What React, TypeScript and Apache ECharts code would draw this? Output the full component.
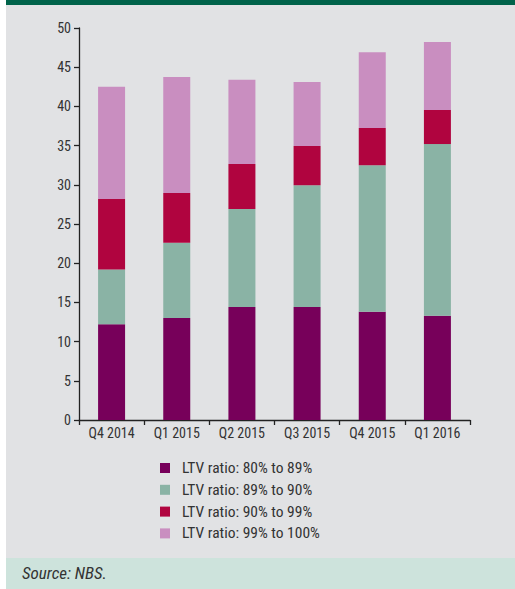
import React, { useEffect, useRef } from "react";
import * as echarts from "echarts";

const categories = ["Q4 2014", "Q1 2015", "Q2 2015", "Q3 2015", "Q4 2015", "Q1 2016"];
const ltv80to89 = [12.2, 13.0, 14.4, 14.4, 13.8, 13.3];
const ltv89to90 = [7.0, 9.6, 12.5, 15.55, 18.7, 21.9];
const ltv90to99 = [9.0, 6.35, 5.75, 5.0, 4.75, 4.35];
const ltv99to100 = [14.3, 14.8, 10.75, 8.15, 9.65, 8.65];
const seriesNames = [
  "LTV ratio: 80% to 89%",
  "LTV ratio: 89% to 90%",
  "LTV ratio: 90% to 99%",
  "LTV ratio: 99% to 100%",
];
const colors = ["#77005a", "#8ab3a5", "#b0043f", "#c98ec0"];
const FONT = "'Liberation Sans Narrow', 'Roboto Condensed', 'DejaVu Sans Condensed', Roboto, sans-serif";

export default function App() {
  const ref = useRef<HTMLDivElement>(null);
  useEffect(() => {
    document.body.style.margin = "0";
    const chart = echarts.init(ref.current!, undefined, { renderer: "svg" });
    const data = [ltv80to89, ltv89to90, ltv90to99, ltv99to100];
    chart.setOption({
      animation: false,
      backgroundColor: "#ffffff",
      textStyle: { fontFamily: FONT },
      graphic: [
        { type: "rect", z: -10, shape: { x: 6, y: 0, width: 509, height: 5 }, style: { fill: "#00634a" } },
        { type: "rect", z: -10, shape: { x: 6, y: 5, width: 509, height: 553 }, style: { fill: "#e1e2e4" } },
        { type: "rect", z: -10, shape: { x: 6, y: 558, width: 509, height: 31 }, style: { fill: "#cde3dc" } },
        {
          type: "text",
          left: 22,
          top: 564,
          style: { text: "Source: NBS.", fill: "#333333", font: `italic 17px ${FONT}` },
        },
      ],
      grid: { left: 79, right: 45, top: 28, bottom: 169 },
      legend: {
        orient: "vertical",
        left: 155,
        top: 455,
        itemWidth: 10,
        itemHeight: 10,
        itemGap: 5.8,
        icon: "rect",
        textStyle: { fontSize: 15.5, color: "#333333", fontFamily: FONT, lineHeight: 15.5, padding: [0, 0, 0, 7] },
        data: seriesNames,
      },
      xAxis: {
        type: "category",
        data: categories,
        axisLine: { lineStyle: { color: "#222222", width: 1.3 } },
        axisTick: { show: true, length: 5, alignWithLabel: false, lineStyle: { color: "#222222", width: 1.3 } },
        axisLabel: { fontSize: 14, color: "#333333", margin: 6, fontFamily: FONT },
      },
      yAxis: {
        type: "value",
        min: 0,
        max: 50,
        interval: 5,
        splitLine: { show: false },
        axisLine: { show: true, lineStyle: { color: "#222222", width: 1.3 } },
        axisTick: { show: true, length: 5, lineStyle: { color: "#222222", width: 1.3 } },
        axisLabel: { fontSize: 14, color: "#333333", margin: 8, fontFamily: FONT },
      },
      series: data.map((d, i) => ({
        name: seriesNames[i],
        type: "bar",
        stack: "total",
        data: d,
        barWidth: 27,
        itemStyle: { color: colors[i] },
      })),
    });
    return () => chart.dispose();
  }, []);
  return <div ref={ref} style={{ width: 515, height: 589 }} />;
}
